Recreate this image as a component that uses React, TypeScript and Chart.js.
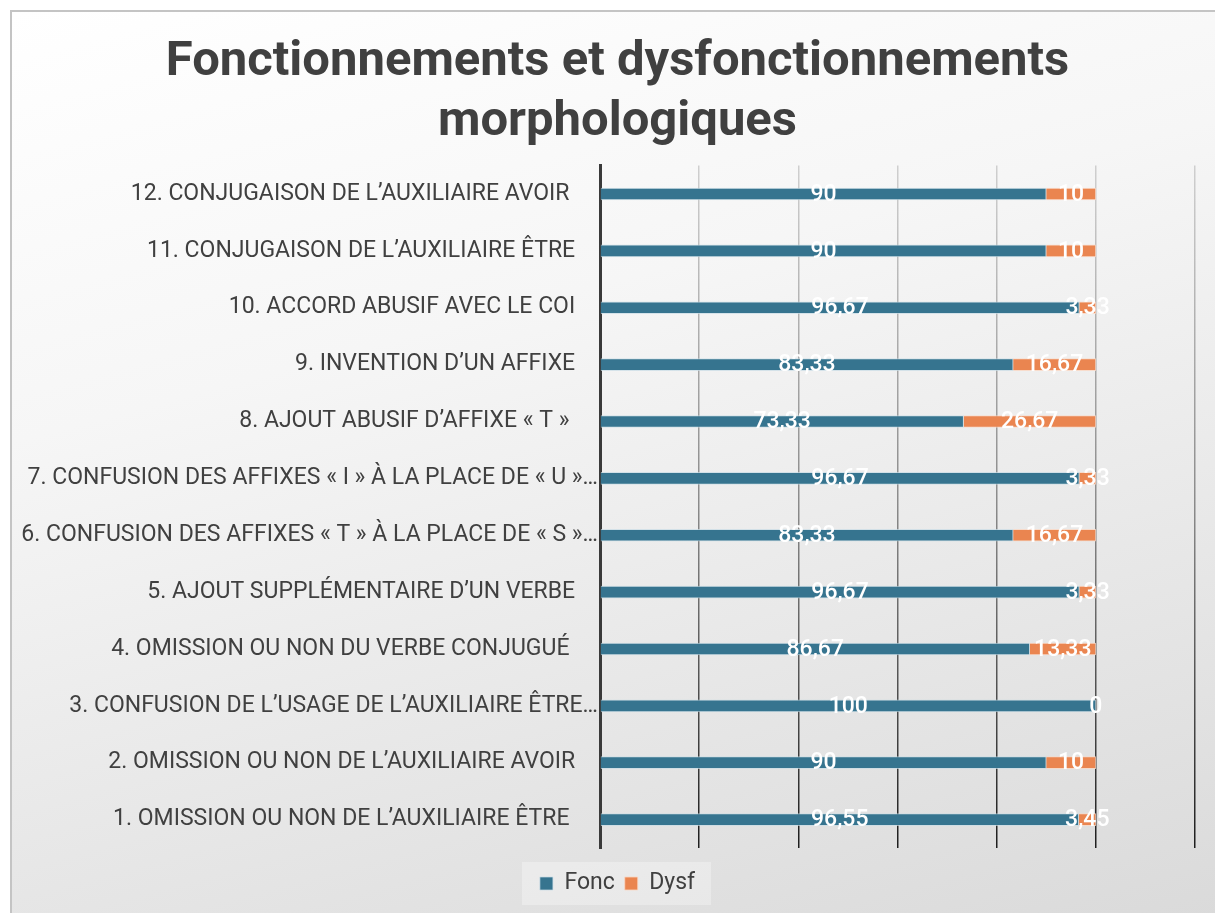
import React, { useEffect, useRef } from "react";
import { Chart, registerables } from "chart.js";

Chart.register(...registerables);

const categories = [
  "12. CONJUGAISON DE L’AUXILIAIRE AVOIR ",
  "11. CONJUGAISON DE L’AUXILIAIRE ÊTRE",
  "10. ACCORD ABUSIF AVEC LE COI",
  "9. INVENTION D’UN AFFIXE",
  "8. AJOUT ABUSIF D’AFFIXE « T » ",
  "7. CONFUSION DES AFFIXES « I » À LA PLACE DE « U »…",
  "6. CONFUSION DES AFFIXES « T » À LA PLACE DE « S »…",
  "5. AJOUT SUPPLÉMENTAIRE D’UN VERBE",
  "4. OMISSION OU NON DU VERBE CONJUGUÉ ",
  "3. CONFUSION DE L’USAGE DE L’AUXILIAIRE ÊTRE…",
  "2. OMISSION OU NON DE L’AUXILIAIRE AVOIR",
  "1. OMISSION OU NON DE L’AUXILIAIRE ÊTRE ",
];

const foncValues = [90, 90, 96.67, 83.33, 73.33, 96.67, 83.33, 96.67, 86.67, 100, 90, 96.55];
const dysfValues = [10, 10, 3.33, 16.67, 26.67, 3.33, 16.67, 3.33, 13.33, 0, 10, 3.45];

const seriesNames = ["Fonc", "Dysf"];
const titleLines = ["Fonctionnements et dysfonctionnements", "morphologiques"];

const FONT = '"Roboto", "Liberation Sans", sans-serif';
const TITLE_FONT = '"Roboto", "Liberation Sans", sans-serif';

const fmt = (v: number) => String(v).replace(".", ",");

const dataLabelPlugin = {
  id: "dataLabels",
  afterDatasetsDraw(chart: any) {
    const ctx = chart.ctx;
    ctx.save();
    ctx.font = `500 23px ${FONT}`;
    ctx.fillStyle = "#ffffff";
    ctx.textAlign = "center";
    ctx.textBaseline = "middle";
    chart.data.datasets.forEach((ds: any, i: number) => {
      const meta = chart.getDatasetMeta(i);
      meta.data.forEach((el: any, j: number) => {
        const p = el.getProps(["x", "y", "base"], true);
        ctx.fillText(fmt(ds.data[j]), (p.x + p.base) / 2, p.y + 1);
      });
    });
    ctx.restore();
  },
};

const legendBgPlugin = {
  id: "legendBg",
  beforeDraw(chart: any) {
    const lg = chart.legend;
    if (!lg || !lg.legendHitBoxes || !lg.legendHitBoxes.length) return;
    const boxes = lg.legendHitBoxes;
    const minX = Math.min(...boxes.map((b: any) => b.left));
    const maxX = Math.max(...boxes.map((b: any) => b.left + b.width));
    const minY = Math.min(...boxes.map((b: any) => b.top));
    const maxY = Math.max(...boxes.map((b: any) => b.top + b.height));
    const ctx = chart.ctx;
    ctx.save();
    ctx.fillStyle = "rgba(255,255,255,0.3)";
    ctx.fillRect(minX - 18, minY - 10, maxX - minX + 34, maxY - minY + 20);
    ctx.restore();
  },
};

export default function App() {
  const ref = useRef<HTMLCanvasElement | null>(null);

  useEffect(() => {
    document.body.style.overflow = "hidden";
    const canvas = ref.current;
    if (!canvas) return;
    const chart = new Chart(canvas, {
      type: "bar",
      data: {
        labels: categories,
        datasets: [
          {
            label: seriesNames[0],
            data: foncValues,
            backgroundColor: "#36748f",
            borderColor: "rgba(200,220,230,0.7)",
            borderWidth: 1,
            barThickness: 12,
          },
          {
            label: seriesNames[1],
            data: dysfValues,
            backgroundColor: "#ea8550",
            borderColor: "rgba(250,215,195,0.8)",
            borderWidth: 1,
            barThickness: 12,
          },
        ],
      },
      options: {
        indexAxis: "y",
        animation: false,
        responsive: false,
        maintainAspectRatio: false,
        layout: { padding: { left: 0, right: 0, top: 0, bottom: 8 } },
        scales: {
          x: {
            stacked: true,
            min: 0,
            max: 120,
            afterFit: (s: any) => {
              s.height = 14;
            },
            ticks: { display: false, stepSize: 20 },
            border: { display: false },
            grid: {
              drawTicks: false,
              lineWidth: 1.5,
              color: (c: any) => {
                const area = c.chart.chartArea;
                if (!area) return "#999";
                const g = c.chart.ctx.createLinearGradient(0, area.top, 0, area.bottom);
                g.addColorStop(0, "#cfcfcf");
                g.addColorStop(0.5, "#8a8a8a");
                g.addColorStop(1, "#1e1e1e");
                return g;
              },
            },
          },
          y: {
            stacked: true,
            afterFit: (s: any) => {
              s.width = 588;
            },
            grid: { display: false, drawTicks: false },
            border: { display: true, color: "#3a3a3a", width: 3 },
            ticks: {
              padding: 2,
              color: "#404040",
              font: { family: FONT, size: 23 },
              callback: function (this: any, v: any) {
                const l = this.getLabelForValue(v) as string;
                return l.endsWith("…") ? l : l + "    ";
              },
            },
          },
          yRight: {
            type: "category",
            position: "right",
            display: true,
            grid: { display: false, drawTicks: false },
            border: { display: false },
            ticks: { display: false },
            afterFit: (s: any) => {
              s.width = 28;
            },
          },
        },
        plugins: {
          title: {
            display: true,
            text: titleLines,
            color: "#404040",
            font: { family: TITLE_FONT, size: 49, weight: "bold", lineHeight: 1.22 },
            padding: { top: 21, bottom: 13 },
          },
          legend: {
            position: "bottom",
            labels: {
              color: "#404040",
              font: { family: FONT, size: 23 },
              boxWidth: 13,
              boxHeight: 13,
              padding: 10,
            },
          },
          tooltip: { enabled: false },
        },
      },
      plugins: [dataLabelPlugin, legendBgPlugin],
    });
    return () => chart.destroy();
  }, []);

  return (
    <div
      style={{
        position: "absolute",
        left: 10,
        top: 10,
        width: 1211,
        height: 905,
        border: "2px solid #c4c4c4",
        background: "linear-gradient(165deg, #ffffff 0%, #f6f6f6 35%, #dadada 100%)",
      }}
    >
      <canvas ref={ref} width={1211} height={901} style={{ display: "block" }} />
    </div>
  );
}
